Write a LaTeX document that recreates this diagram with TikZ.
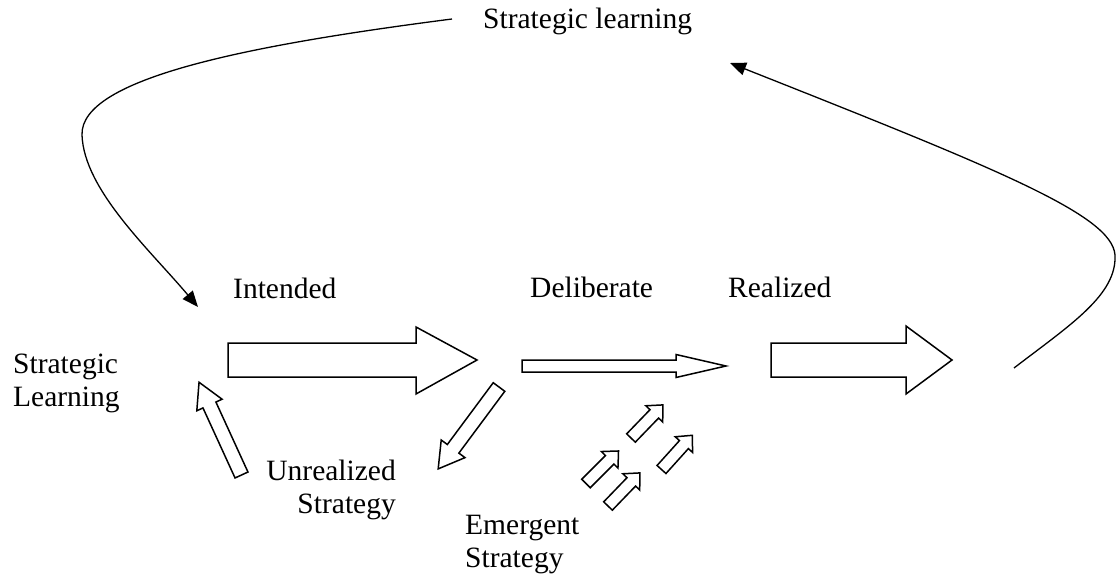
\documentclass[tikz,border=0pt]{standalone}
\usepackage{fontspec}
\setmainfont{Liberation Serif}
\usetikzlibrary{arrows.meta}

\tikzset{
	lbl/.style={inner sep=0pt, anchor=base west},
	blockarrow/.style={draw, line width=1.5pt, line join=miter, fill=white},
	loopline/.style={line width=1.3pt, -{Triangle[length=16pt,width=13pt]}}
}

\begin{document}
\begin{tikzpicture}[x=1pt,y=-1pt,font=\fontsize{29.5}{33}\selectfont]
				\useasboundingbox (0,0) rectangle (1117,575);

				% labels (multi-line ones sit on their last line)
				\node[lbl] (sltop) at (483,29) {Strategic learning};
				\node[lbl] (intended) at (233,298) {Intended};
				\node[lbl] (deliberate) at (530,297) {Deliberate};
				\node[lbl] (realized) at (728,297) {Realized};
				\node[lbl, align=left] (slleft) at (13,406) {Strategic\\Learning};
				\node[lbl, anchor=base east, align=right] (unrealized) at (396,513) {Unrealized\\Strategy};
				\node[lbl, align=left] (emergent) at (465,567) {Emergent\\Strategy};

				% big arrows
				\draw[blockarrow] (228,343) -- (416,343) -- (416,327) -- (477,360)
					-- (416,394) -- (416,377) -- (228,377) -- cycle;
				\draw[blockarrow] (522,360) -- (676,360) -- (676,354.5) -- (726,366)
					-- (676,377.5) -- (676,372) -- (522,372) -- cycle;
				\draw[blockarrow] (771,343) -- (906,343) -- (906,326) -- (952,360)
					-- (906,394) -- (906,377) -- (771,377) -- cycle;

				% unrealized and back to learning
				\begin{scope}[shift={(499,387)},rotate=-126.6]
					\draw[blockarrow] (0,7.2) -- (77,7.2) -- (77,14.8) -- (102,0)
						-- (77,-14.8) -- (77,-7.2) -- (0,-7.2) -- cycle;
				\end{scope}
				\begin{scope}[shift={(241.5,475)},rotate=114.6]
					\draw[blockarrow] (0,7.1) -- (77,7.1) -- (77,13.9) -- (102,0)
						-- (77,-13.9) -- (77,-7.1) -- (0,-7.1) -- cycle;
				\end{scope}

				% emergent
				\foreach \x/\y/\a in {631/438/46, 661.5/469.5/48, 586/483.5/45, 608/506/46} {
					\begin{scope}[shift={(\x,\y)},rotate=\a]
						\draw[blockarrow] (0,6) -- (33.5,6) -- (33.5,11.7) -- (46,0)
							-- (33.5,-11.7) -- (33.5,-6) -- (0,-6) -- cycle;
					\end{scope}
				}

				% learning loops
				\coordinate (loopstart) at (452,19);
				\coordinate (loopend) at (198,307);
				\coordinate (backstart) at (1014,368);
				\coordinate (backend) at (730,63);

				\draw[loopline] (loopstart) .. controls (250,45) and (80,78) .. (82,135)
					.. controls (84,190) and (150,250) .. (loopend);
				\draw[loopline] (backstart) .. controls (1070,325) and (1117,295) .. (1115,255)
					.. controls (1112,215) and (1000,170) .. (backend);
\end{tikzpicture}
\end{document}
